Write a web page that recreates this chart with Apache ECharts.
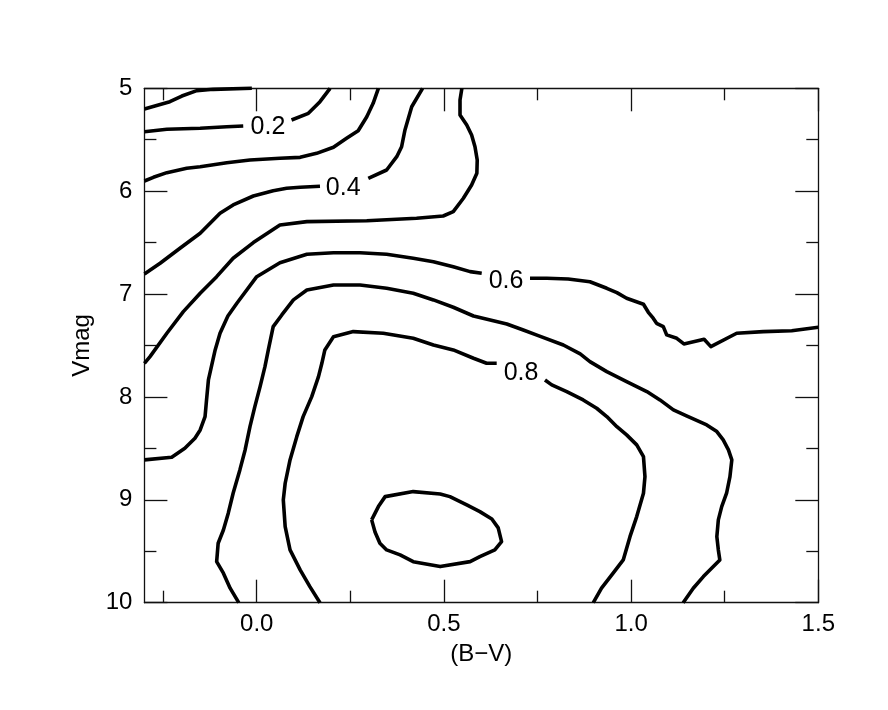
<!DOCTYPE html>
<html>
<head>
<meta charset="utf-8">
<script src="https://cdn.jsdelivr.net/npm/echarts@6/dist/echarts.min.js"></script>
<style>
html,body{margin:0;padding:0;background:#fff;}
#chart{width:888px;height:710px;}
</style>
</head>
<body>
<div id="chart"></div>
<script>
// ---- data (x = B-V, y = Vmag); null marks a gap (label or break) ----
const xMajorTicks = [0, 0.5, 1.0, 1.5];
const xMinorTicks = [-0.25, 0.25, 0.75, 1.25];
const yTicks = [5, 6, 7, 8, 9, 10];

const level01 = [[-0.300,5.201],[-0.272,5.172],[-0.232,5.130],[-0.200,5.075],[-0.160,5.023],[-0.116,5.010],[-0.013,5.000]];
const level02 = [[-0.300,5.422],[-0.240,5.398],[-0.151,5.389],[-0.080,5.373],[-0.036,5.366],null,
  [0.093,5.308],[0.138,5.243],[0.169,5.130],[0.196,5.000]];
const level03 = [[-0.300,5.901],[-0.276,5.865],[-0.240,5.820],[-0.187,5.777],[-0.151,5.762],[-0.080,5.723],[-0.018,5.697],
  [0.062,5.680],[0.116,5.671],[0.160,5.632],[0.205,5.573],[0.240,5.486],[0.271,5.412],[0.294,5.276],[0.311,5.146],[0.325,5.000]];
const level04 = [[-0.300,6.805],[-0.258,6.701],[-0.205,6.555],[-0.151,6.409],[-0.098,6.215],[-0.063,6.134],[-0.009,6.047],
  [0.044,5.995],[0.080,5.972],[0.116,5.962],[0.169,5.952],null,
  [0.298,5.875],[0.347,5.794],[0.374,5.665],[0.387,5.568],[0.396,5.405],[0.414,5.179],[0.443,5.000]];
const level05 = [[0.548,5.000],[0.543,5.114],[0.543,5.259],[0.561,5.357],[0.574,5.454],[0.583,5.568],[0.589,5.697],[0.588,5.826],
  [0.574,5.940],[0.552,6.069],[0.525,6.199],[0.498,6.241],[0.427,6.263],[0.294,6.287],[0.134,6.296],[0.062,6.328],
  [-0.009,6.500],[-0.063,6.652],[-0.107,6.831],[-0.151,6.992],[-0.196,7.171],[-0.240,7.381],[-0.285,7.608],[-0.300,7.673]];
const level06 = [[-0.300,8.612],[-0.227,8.586],[-0.192,8.499],[-0.165,8.401],[-0.151,8.321],[-0.138,8.191],[-0.134,8.029],
  [-0.129,7.835],[-0.120,7.689],[-0.111,7.543],[-0.098,7.381],[-0.077,7.213],[-0.053,7.089],[0.000,6.831],[0.062,6.695],
  [0.134,6.613],[0.205,6.598],[0.276,6.598],[0.347,6.613],[0.418,6.652],[0.472,6.685],[0.525,6.734],[0.570,6.782],[0.601,6.798],null,
  [0.730,6.846],[0.775,6.846],[0.832,6.853],[0.890,6.880],[0.935,6.944],[0.962,6.986],[0.988,7.041],[1.033,7.099],[1.046,7.177],
  [1.059,7.235],[1.068,7.284],[1.086,7.317],[1.095,7.397],[1.122,7.430],[1.141,7.485],[1.195,7.439],[1.213,7.511],[1.282,7.381],
  [1.353,7.365],[1.429,7.356],[1.500,7.323]];
const level07 = [[-0.048,10.000],[-0.071,9.859],[-0.089,9.713],[-0.107,9.601],[-0.103,9.422],[-0.089,9.293],[-0.076,9.130],
  [-0.063,8.936],[-0.045,8.709],[-0.031,8.515],[-0.018,8.289],[-0.005,8.094],[0.009,7.900],[0.022,7.706],[0.031,7.543],
  [0.044,7.317],[0.067,7.203],[0.098,7.057],[0.134,6.960],[0.205,6.912],[0.276,6.912],[0.347,6.944],[0.418,6.992],[0.472,7.057],
  [0.525,7.128],[0.579,7.213],[0.632,7.259],[0.668,7.291],[0.712,7.349],[0.752,7.404],[0.819,7.495],[0.864,7.582],[0.890,7.657],
  [0.935,7.754],[0.988,7.851],[1.042,7.948],[1.077,8.029],[1.113,8.126],[1.148,8.185],[1.202,8.272],[1.229,8.337],[1.246,8.418],
  [1.260,8.515],[1.269,8.612],[1.264,8.775],[1.255,8.936],[1.242,9.066],[1.233,9.195],[1.229,9.358],[1.233,9.487],[1.237,9.584],
  [1.193,9.746],[1.166,9.859],[1.139,10.000]];
const level08 = [[0.169,10.000],[0.142,9.844],[0.116,9.681],[0.089,9.487],[0.076,9.260],[0.071,9.001],[0.076,8.839],[0.089,8.612],
  [0.107,8.386],[0.124,8.191],[0.147,7.997],[0.165,7.803],[0.174,7.673],[0.182,7.543],[0.205,7.414],[0.258,7.365],[0.338,7.381],
  [0.418,7.430],[0.472,7.495],[0.525,7.543],[0.579,7.624],[0.614,7.673],[0.641,7.673],null,
  [0.770,7.835],[0.788,7.883],[0.828,7.948],[0.872,8.029],[0.908,8.110],[0.935,8.191],[0.962,8.289],[0.988,8.369],[1.015,8.466],
  [1.033,8.580],[1.037,8.775],[1.033,8.936],[1.015,9.163],[0.997,9.358],[0.979,9.584],[0.952,9.713],[0.921,9.859],[0.899,10.000]];
const level09 = [[0.307,9.195],[0.325,9.066],[0.343,8.969],[0.418,8.920],[0.490,8.943],[0.516,8.969],[0.561,9.050],[0.596,9.115],
  [0.628,9.186],[0.645,9.273],[0.654,9.406],[0.636,9.487],[0.596,9.552],[0.570,9.601],[0.490,9.649],[0.418,9.601],[0.383,9.535],
  [0.347,9.487],[0.329,9.422],[0.316,9.312],[0.307,9.195]];

const labelText = ['0.2', '0.4', '0.6', '0.8'];
const labelX = [0.030, 0.231, 0.666, 0.706];
const labelY = [5.376, 5.969, 6.873, 7.767];

// ---- build series ----
const allLevels = [level01, level02, level03, level04, level05, level06, level07, level08, level09];
const series = [];
allLevels.forEach(function (arr) {
  let seg = [];
  arr.concat([null]).forEach(function (p) {
    if (p === null) {
      if (seg.length) {
        series.push({
          type: 'line', xAxisIndex: 0, yAxisIndex: 0, data: seg, showSymbol: false, symbol: 'none',
          lineStyle: { color: '#000', width: 3.6, join: 'round' }, silent: true, clip: false, animation: false
        });
      }
      seg = [];
    } else {
      seg.push(p);
    }
  });
});
series.push({
  type: 'scatter', xAxisIndex: 0, yAxisIndex: 0, symbolSize: 0, animation: false, silent: true,
  itemStyle: { color: '#000', opacity: 1 },
  data: labelText.map(function (t, i) { return { name: t, value: [labelX[i], labelY[i]] }; }),
  label: { show: true, position: 'inside', formatter: '{b}', color: '#000', textBorderWidth: 0, opacity: 1,
    fontSize: 25, fontFamily: 'Liberation Sans, Arial, sans-serif' }
});

const font = 'Liberation Sans, Arial, sans-serif';
const axisCol = '#111';
function xAx(pos, ticks, len, showLine, showLabel) {
  return {
    type: 'value', position: pos, min: -0.3, max: 1.5,
    axisLine: { show: showLine, onZero: false, lineStyle: { color: axisCol, width: 1.3 } },
    axisTick: { show: true, inside: true, length: len, customValues: ticks, lineStyle: { color: axisCol, width: 1.3 } },
    axisLabel: { show: showLabel, customValues: xMajorTicks, formatter: function (v) { return v.toFixed(1); },
      color: '#000', fontSize: 24, fontFamily: font, margin: 10 },
    splitLine: { show: false }
  };
}
function yAx(pos, showLabel) {
  return {
    type: 'value', position: pos, min: yTicks[0], max: yTicks[yTicks.length - 1], interval: 1, inverse: true,
    axisLine: { show: true, onZero: false, lineStyle: { color: axisCol, width: 1.3 } },
    axisTick: { show: true, inside: true, length: 23, lineStyle: { color: axisCol, width: 1.3 } },
    minorTick: { show: true, splitNumber: 2, length: 12, lineStyle: { color: axisCol, width: 1.3 } },
    axisLabel: { show: showLabel, color: '#000', fontSize: 24, fontFamily: font, margin: 12 },
    splitLine: { show: false }, minorSplitLine: { show: false }
  };
}

const xa0 = xAx('bottom', xMajorTicks, 23, true, true);
xa0.name = '(B\u2212V)';
xa0.nameLocation = 'middle';
xa0.nameGap = 40;
xa0.nameTextStyle = { color: '#000', fontSize: 24, fontFamily: font };
const ya0 = yAx('left', true);
ya0.name = 'Vmag';
ya0.nameLocation = 'middle';
ya0.nameGap = 49;
ya0.nameRotate = 90;
ya0.nameTextStyle = { color: '#000', fontSize: 24, fontFamily: font };

const option = {
  backgroundColor: '#fff',
  animation: false,
  grid: { left: 144.4, right: 69.7, top: 88.3, bottom: 107.3, containLabel: false },
  xAxis: [
    xa0,
    xAx('bottom', xMinorTicks, 12, false, false),
    xAx('top', xMajorTicks, 23, true, false),
    xAx('top', xMinorTicks, 12, false, false)
  ],
  yAxis: [ya0, yAx('right', false)],
  series: series
};
const chart = echarts.init(document.getElementById('chart'), null, { renderer: 'canvas' });
chart.setOption(option);
</script>
</body>
</html>
